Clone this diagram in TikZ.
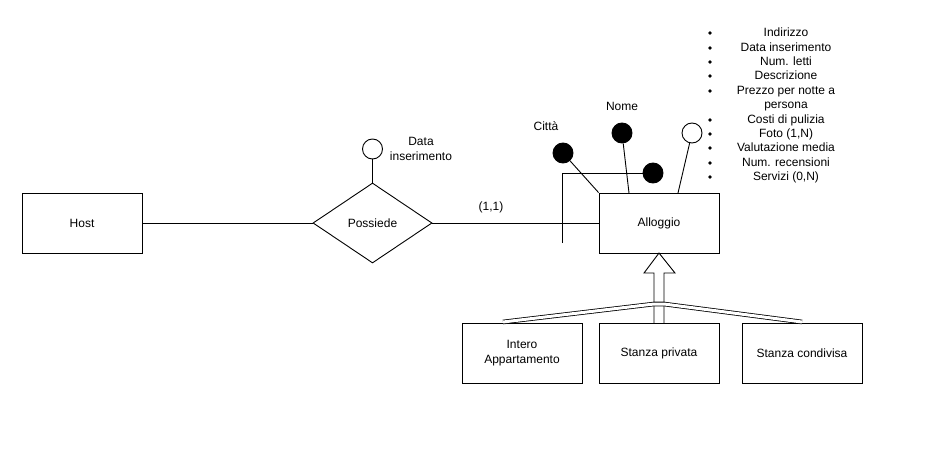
\documentclass[tikz,border=0pt]{standalone}
\usepackage{fontspec}
\setmainfont{Liberation Sans}
\usetikzlibrary{shapes.geometric}
\begin{document}
\begin{tikzpicture}[x=1pt,y=-1pt,
  every node/.style={font=\fontsize{12}{14.4}\selectfont},
  ln/.style={line width=0.9pt},
  entity/.style={draw,line width=0.9pt,minimum width=120pt,minimum height=60pt,inner sep=0pt,align=center},
  rel/.style={draw,diamond,line width=0.9pt,minimum width=119pt,minimum height=80pt,inner sep=0pt},
  attrE/.style={draw,circle,line width=0.9pt,minimum size=20pt,inner sep=0pt,fill=white},
  attrF/.style={draw,circle,line width=0.9pt,minimum size=20pt,inner sep=0pt,fill=black},
  lbl/.style={inner sep=0pt,anchor=base},
  bul/.style={circle,fill=black,inner sep=0pt,minimum size=3.6pt},
  dbl/.style={line width=0.8pt,double,double distance=3pt}
]
\useasboundingbox[fill=white] (0,0) rectangle (932,476);

% entities and relationship
\node[entity] (host) at (82,223) {Host};
\node[rel] (poss) at (372.5,223) {Possiede};
\node[entity] (allog) at (659,223) {Alloggio};
\node[entity] (intero) at (522,353) {Intero\\Appartamento};
\node[entity] (privata) at (659,353) {Stanza privata};
\node[entity] (condiv) at (802,353) {Stanza condivisa};

\draw[ln] (host) -- (poss);
\draw[ln] (poss) -- (allog);
\node[lbl] (card) at (491,211) {(1,1)};

% relationship attribute
\node[attrE] (dataA) at (372.5,149) {};
\draw[ln] (dataA) -- (poss.north);
\node[inner sep=0pt,align=center] (dataL) at (421,149) {Data\\inserimento};

% Alloggio attributes
\node[attrF] (citta) at (563,153) {};
\node[attrF] (nome) at (622,133) {};
\node[attrF] (third) at (653,173) {};
\node[attrE] (other) at (692,133) {};
\coordinate (nomeEnd) at (629,193);
\coordinate (otherEnd) at (678,193);
\coordinate (hookA) at (562,243);
\coordinate (hookB) at (562,173);
\draw[ln] (citta) -- (allog.north west);
\draw[ln] (nome) -- (nomeEnd);
\draw[ln] (other) -- (otherEnd);
\draw[ln] (hookA) -- (hookB) -- (third);
\node[lbl] (cittaL) at (546,131) {Città};
\node[lbl] (nomeL) at (622,111) {Nome};

% bullet list
\foreach \t/\y [count=\i] in {Indirizzo/33, Data inserimento/48, Num. letti/62, Descrizione/76, Prezzo per notte a/91, Costi di pulizia/120, Foto (1{,}N)/134, Valutazione media/148, Num. recensioni/163, Servizi (0{,}N)/177}{
  \node[bul] (b\i) at (710,\y) {};
  \node[lbl] (t\i) at (786,\y+4) {\t};
}
\node[lbl] (tp) at (786,109) {persona};

% generalisation
\draw[ln] (654,323) -- (654,273) -- (644,273) -- (659,253) -- (675,273) -- (664,273) -- (664,323);
\draw[dbl] (503,322) -- (654,304) -- (664,304) -- (802,322);
\end{tikzpicture}
\end{document}
